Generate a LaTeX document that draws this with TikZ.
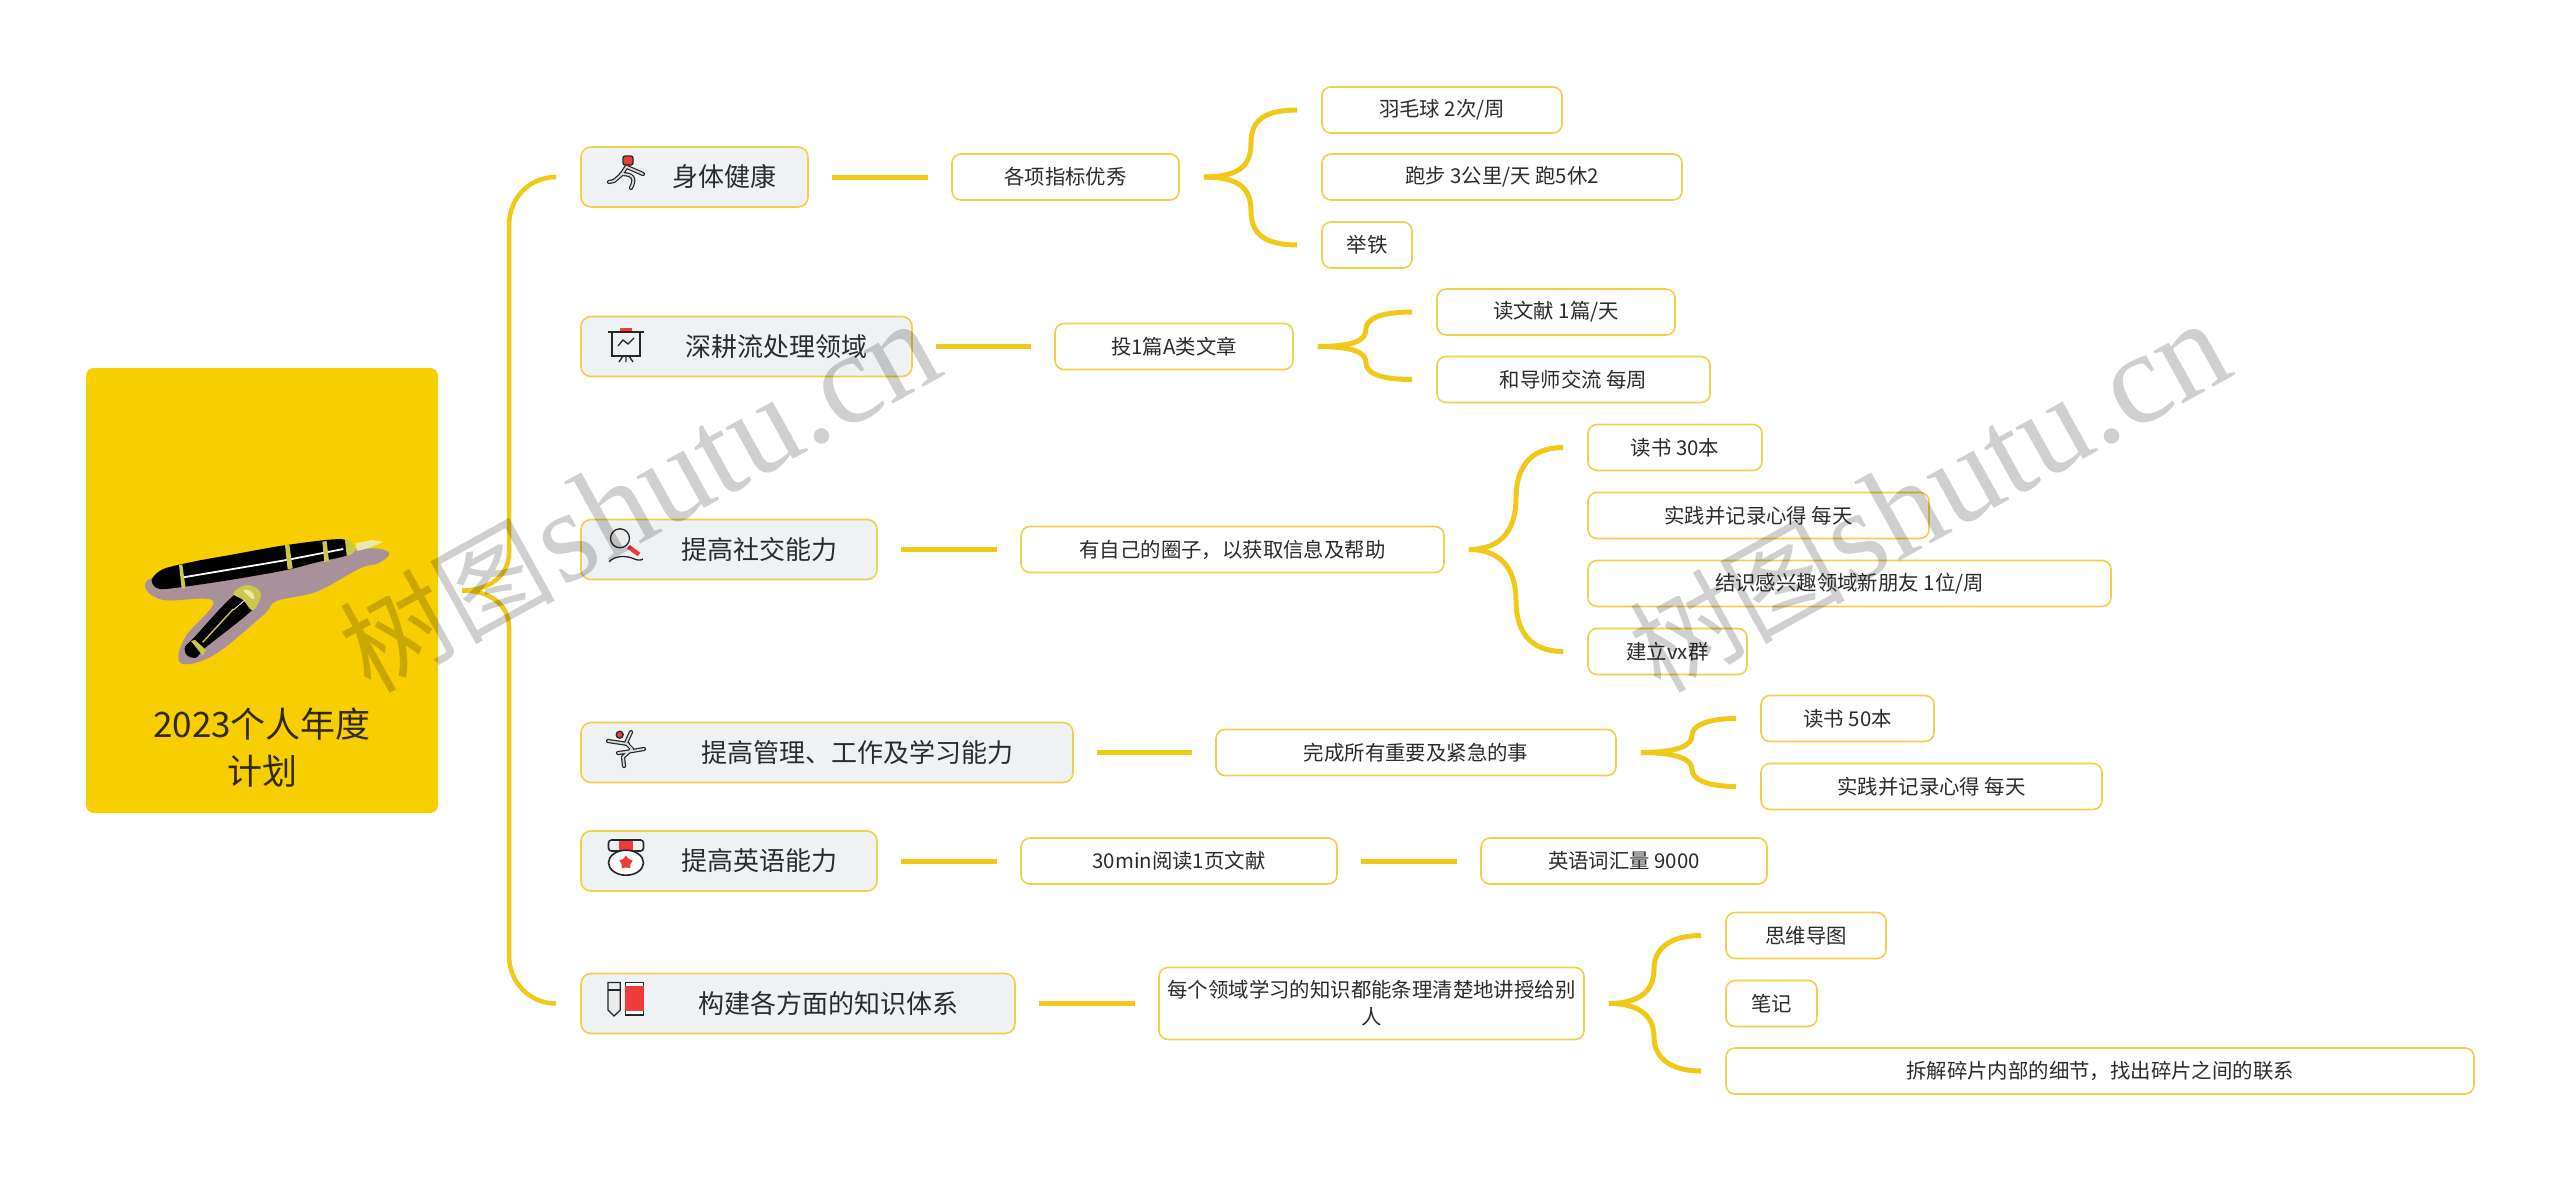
\documentclass[tikz,border=0pt]{standalone}
\usepackage{fontspec}
\usetikzlibrary{shapes.geometric}
\setmainfont{Noto Sans CJK SC}
\newfontfamily\wmlat{Liberation Serif}
\definecolor{rootyl}{HTML}{F7CF00}
\definecolor{lineyl}{HTML}{F0C818}
\definecolor{edgeyl}{HTML}{EFD048}
\definecolor{boxgr}{HTML}{EFF2F5}
\definecolor{txtbk}{HTML}{2B2B2B}
\definecolor{penyl}{HTML}{C9C84C}
\definecolor{penpl}{HTML}{ECE8A8}
\definecolor{penmv}{HTML}{A8919A}
\definecolor{iconrd}{HTML}{EE3B3B}
\begin{document}
\begin{tikzpicture}[
        x=1pt,y=-1pt,
        rsty/.style={rounded corners=8pt,fill=rootyl,minimum width=352pt,minimum height=445pt},
        tsty/.style={align=center,text=black!80!rootyl,font=\fontsize{35}{47}\selectfont},
        nsty/.style={rounded corners=10pt,draw=edgeyl,line width=1.6pt,fill=boxgr,minimum height=60pt,inner sep=0pt,text=txtbk,font=\fontsize{26}{30}\selectfont,execute at begin node=\hspace*{60pt}},
        msty/.style={rounded corners=9pt,draw=edgeyl,line width=1.6pt,fill=white,minimum height=46pt,inner sep=0pt,align=center,text=txtbk,font=\fontsize{20.4}{27}\selectfont},
        lsty/.style={draw=lineyl,line width=5pt,shorten <=23pt,shorten >=23pt},
        bsty/.style={draw=lineyl,line width=5pt,shorten <=24pt,shorten >=24pt},
        ksty/.style={draw=lineyl,line width=4.5pt,shorten <=24pt,shorten >=24pt},
        osty/.style={draw=black!85,line width=4.2pt,line cap=round,line join=round},
        gsty/.style={draw=black!15,line width=1.8pt,line cap=round,line join=round},
        isty/.style={draw=black!85,line width=1.3pt},
        wsty/.style={rotate=29,anchor=base,text=black,text opacity=0.19,inner sep=0pt},
        ]

    \useasboundingbox[fill=white] (0,0) rectangle (2560,1181);

    \node (root) at (262,590.5) [rsty] {};
    \node (rtitle) at (262,748) [tsty] {2023个人年度\\计划};

    \node (n1) at (694.5,177) [nsty,minimum width=227pt] {身体健康};
    \node (n2) at (746.5,346.5) [nsty,minimum width=331pt] {深耕流处理领域};
    \node (n3) at (729,549.5) [nsty,minimum width=296pt] {提高社交能力};
    \node (n4) at (827,752.5) [nsty,minimum width=492pt] {提高管理、工作及学习能力};
    \node (n5) at (729,861) [nsty,minimum width=296pt] {提高英语能力};
    \node (n6) at (798,1003.5) [nsty,minimum width=434pt] {构建各方面的知识体系};

    \node (m1) at (1065.5,177) [msty,minimum width=227pt] {各项指标优秀};
    \node (m2) at (1174,346.5) [msty,minimum width=238pt] {投1篇A类文章};
    \node (m3) at (1232.5,549.5) [msty,minimum width=423pt] {有自己的圈子，以获取信息及帮助};
    \node (m4) at (1416,752.5) [msty,minimum width=400pt] {完成所有重要及紧急的事};
    \node (m5) at (1179,861) [msty,minimum width=316pt] {30min阅读1页文献};
    \node (m6) at (1371.5,1003.5) [msty,minimum width=425pt,minimum height=72pt] {每个领域学习的知识都能条理清楚地讲授给别\\人};

    \node (a1) at (1442,110) [msty,minimum width=240pt] {羽毛球 2次/周};
    \node (a2) at (1502,177) [msty,minimum width=360pt] {跑步 3公里/天 跑5休2};
    \node (a3) at (1367,245) [msty,minimum width=90pt] {举铁};
    \node (b1) at (1556,312) [msty,minimum width=238pt] {读文献 1篇/天};
    \node (b2) at (1573.5,379.5) [msty,minimum width=273pt] {和导师交流 每周};
    \node (c1) at (1675,447.5) [msty,minimum width=174pt] {读书 30本};
    \node (c2) at (1758.5,515.5) [msty,minimum width=341pt] {实践并记录心得 每天};
    \node (c3) at (1849.5,583.5) [msty,minimum width=523pt] {结识感兴趣领域新朋友 1位/周};
    \node (c4) at (1667.5,651.5) [msty,minimum width=159pt] {建立vx群};
    \node (d1) at (1847.5,718.5) [msty,minimum width=173pt] {读书 50本};
    \node (d2) at (1931.5,786.5) [msty,minimum width=341pt] {实践并记录心得 每天};
    \node (e1) at (1624,861) [msty,minimum width=286pt] {英语词汇量 9000};
    \node (f1) at (1806,935.5) [msty,minimum width=160pt] {思维导图};
    \node (f2) at (1771.5,1003.5) [msty,minimum width=91pt] {笔记};
    \node (f3) at (2100,1071) [msty,minimum width=748pt] {拆解碎片内部的细节，找出碎片之间的联系};

    \draw[ksty] (root.east) .. controls (490,590.5) and (509,575) .. (509,553) -- (509,226) .. controls (509,197) and (530,177) .. (n1.west);
    \draw[ksty] (root.east) .. controls (490,590.5) and (509,605) .. (509,627) -- (509,955) .. controls (509,983) and (530,1003.5) .. (n6.west);

    \draw[lsty] (n1) -- (m1);
    \draw[lsty] (n2) -- (m2);
    \draw[lsty] (n3) -- (m3);
    \draw[lsty] (n4) -- (m4);
    \draw[lsty] (n5) -- (m5);
    \draw[lsty] (n6) -- (m6);
    \draw[lsty] (m5) -- (e1);

    \draw[bsty] (m1.east) .. controls (1240,177) and (1251,165) .. (1251,143) .. controls (1251,120) and (1265,110) .. (a1.west);
    \draw[bsty] (m1.east) .. controls (1240,177) and (1251,189) .. (1251,211) .. controls (1251,234) and (1265,245) .. (a3.west);
    \draw[bsty] (m2.east) .. controls (1355,346.5) and (1366,340) .. (1366,329) .. controls (1366,319) and (1380,312) .. (b1.west);
    \draw[bsty] (m2.east) .. controls (1355,346.5) and (1366,353) .. (1366,363) .. controls (1366,373) and (1380,379.5) .. (b2.west);
    \draw[bsty] (m3.east) .. controls (1505,549.5) and (1516,525) .. (1516,498.5) .. controls (1516,470) and (1528,447.5) .. (c1.west);
    \draw[bsty] (m3.east) .. controls (1505,549.5) and (1516,574) .. (1516,600.5) .. controls (1516,629) and (1528,651.5) .. (c4.west);
    \draw[bsty] (m4.east) .. controls (1679,752.5) and (1692,745) .. (1692,735.5) .. controls (1692,726) and (1706,718.5) .. (d1.west);
    \draw[bsty] (m4.east) .. controls (1679,752.5) and (1692,760) .. (1692,769.5) .. controls (1692,779) and (1706,786.5) .. (d2.west);
    \draw[bsty] (m6.east) .. controls (1643,1003.5) and (1654,988) .. (1654,969) .. controls (1654,950) and (1668,935.5) .. (f1.west);
    \draw[bsty] (m6.east) .. controls (1643,1003.5) and (1654,1019) .. (1654,1037) .. controls (1654,1056) and (1668,1071) .. (f3.west);

    % pen
    \begin{scope}[shift={(130,525)},xscale=0.3333,yscale=0.3333]
        \fill[penmv] plot[smooth cycle,tension=0.6] coordinates {(45,185) (90,150) (300,110) (520,90) (720,70) (778,85) (745,115) (690,130) (560,200) (440,228) (400,270) (260,385) (170,418) (145,395) (170,330) (250,228) (100,225)};
        \fill[black] plot[smooth cycle,tension=0.5] coordinates {(65,165) (100,132) (200,108) (300,90) (470,60) (640,43) (655,88) (560,112) (470,135) (330,160) (200,180) (90,192)};
        \draw[white,line width=1.8pt] (160,157) -- (470,105) -- (640,72);
        \fill[penyl] (147,120) -- (157,118) -- (167,190) -- (155,190) -- cycle;
        \fill[penyl] (465,60) -- (478,58) -- (488,130) -- (473,133) -- cycle;
        \fill[penyl] (577,50) -- (590,48) -- (597,108) -- (583,112) -- cycle;
        \fill[penyl] (645,45) -- (662,48) -- (678,75) -- (660,92) -- (650,90) -- cycle;
        \fill[penpl] (676,55) -- (725,45) -- (762,50) -- (720,68) -- (682,78) -- cycle;
        \fill[black] plot[smooth cycle,tension=0.5] coordinates {(320,205) (385,225) (350,270) (230,365) (198,398) (170,390) (165,365) (190,340)};
        \fill[penyl] plot[smooth cycle,tension=0.7] coordinates {(310,205) (350,180) (390,200) (385,235) (365,255) (340,225)};
        \fill[penpl] plot[smooth cycle,tension=0.7] coordinates {(340,195) (365,200) (372,222) (358,215)};
        \draw[penyl,line width=1.4pt] (310,252) -- (218,352);
        \draw[white,line width=0.8pt] (345,225) -- (310,255);
        \fill[penyl] (183,348) -- (195,345) -- (228,375) -- (218,392) -- cycle;
    \end{scope}

    % icons
    \begin{scope}[shift={(626,173)}]
        \draw[osty] (1,-6) -- (17,1) (1,-7) -- (-5,2) -- (-12,8) -- (-17,9) (-5,1) .. controls (7,1) and (10,5) .. (5,15);
        \draw[gsty] (1,-6) -- (17,1) (1,-7) -- (-5,2) -- (-12,8) -- (-17,9) (-5,1) .. controls (7,1) and (10,5) .. (5,15);
        \draw[isty,fill=iconrd,rounded corners=2pt] (-3,-17) rectangle (7,-8);
    \end{scope}
    \begin{scope}[shift={(626,343)}]
        \fill[iconrd] (-6,-15) rectangle (6,-11);
        \draw[isty,line width=1.6pt] (-18,-11) -- (18,-11) (-14,-11) -- (-14,13) -- (14,13) -- (14,-11);
        \draw[isty] (-8,3) -- (-3,-3) -- (2,1) -- (8,-5);
        \draw[isty] (0,13) -- (0,19) (-3,13) -- (-7,19) (3,13) -- (7,19);
    \end{scope}
    \begin{scope}[shift={(626,547)}]
        \draw[iconrd,line width=4.5pt] (2.3,-0.3) -- (13,7.5);
        \draw[isty,fill=black!8] (-6,-8.7) circle (9.5);
        \draw[isty] (-17,14.7) .. controls (-10,8) and (0,9) .. (6,11) .. controls (10,13) and (14,14) .. (17,12);
    \end{scope}
    \begin{scope}[shift={(626,749)}]
        \draw[osty] (-18,-8) -- (2,-5) (5,-17) -- (0,-6) -- (6,0) -- (-3,8) -- (-2,17) (18,0) -- (0,3) -- (-8,4);
        \draw[gsty] (-18,-8) -- (2,-5) (5,-17) -- (0,-6) -- (6,0) -- (-3,8) -- (-2,17) (18,0) -- (0,3) -- (-8,4);
        \draw[isty,fill=iconrd] (-6.3,-14.3) circle (3.5);
    \end{scope}
    \begin{scope}[shift={(626,857)}]
        \draw[isty,line width=1.6pt,rounded corners=3pt] (-17.5,-6) rectangle (17.5,-17);
        \fill[iconrd] (-7,-16.5) rectangle (7,-6);
        \draw[isty,line width=1.6pt,fill=white] (0,5.7) ellipse (17.5 and 12.5);
        \node (medal) at (0,5.7) [star,star points=5,fill=iconrd,minimum size=14pt,inner sep=0pt] {};
    \end{scope}
    \begin{scope}[shift={(626,999)}]
        \draw[isty,fill=black!8] (-18,-16.5) -- (-5.7,-16.5) -- (-5.7,11) -- (-12,17) -- (-18,11) -- cycle;
        \draw[isty] (-18,-9) -- (-5.7,-9);
        \draw[isty,fill=white] (-0.7,-16.3) rectangle (17.7,16);
        \fill[iconrd] (-0.7,-13) rectangle (17.7,11.7);
    \end{scope}

    \node (wma) at (659,534) [wsty] {\fontsize{108}{108}\selectfont 树图\hspace{4pt}{\wmlat\fontsize{131}{131}\selectfont shutu.cn}};
    \node (wmb) at (1949,534) [wsty] {\fontsize{108}{108}\selectfont 树图\hspace{4pt}{\wmlat\fontsize{131}{131}\selectfont shutu.cn}};

\end{tikzpicture}
\end{document}
